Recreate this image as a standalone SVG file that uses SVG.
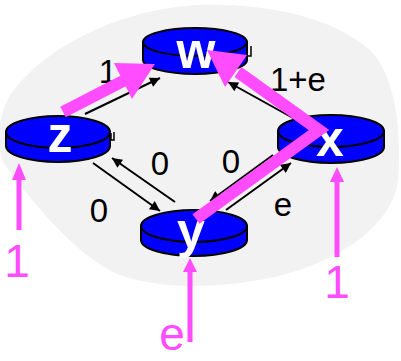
<svg xmlns="http://www.w3.org/2000/svg" width="401" height="361" viewBox="0 0 401 361">
<style>
.cyl{fill:#0000ff;stroke:#000;stroke-width:2}
.lbl{font-family:"Liberation Sans",Arial,sans-serif;font-size:50px;font-weight:bold;fill:#fff;text-anchor:middle}
.cost{font-family:"Liberation Sans",Arial,sans-serif;font-size:33px;fill:#000;text-anchor:middle}
.pcost{font-family:"Liberation Sans",Arial,sans-serif;font-size:46px;fill:#ff4cff;text-anchor:middle}
.blk{stroke:#000;stroke-width:2;fill:none;marker-end:url(#ah)}
.thick{stroke:#ff4cff;stroke-width:12;fill:none;stroke-linejoin:miter;stroke-miterlimit:10}
.thin{stroke:#ff4cff;stroke-width:5;fill:none}
.phead{fill:#ff4cff}
.mark{stroke:#000;stroke-width:1.5;fill:none}
</style>
<defs>
<marker id="ah" viewBox="0 0 10 10" refX="10" refY="5" markerWidth="12" markerHeight="10" markerUnits="userSpaceOnUse" orient="auto"><path d="M0,0 L10,5 L0,10 z" fill="#000"/></marker>
</defs>
<rect width="401" height="361" fill="#fff"/>
<path d="M200,5 C260,3 330,15 370,50 C395,75 402,130 398,180 C392,230 330,265 270,278 C220,288 160,290 120,275 C80,260 30,200 5,165 C-5,150 -2,115 10,95 C50,40 130,8 200,5 Z" fill="#f2f2f2"/>
<g id="connectors">
<line class="blk" x1="85" y1="114" x2="160" y2="78"/>
<line class="blk" x1="293" y1="118" x2="228" y2="82"/>
<line class="blk" x1="93" y1="163" x2="160" y2="211"/>
<line class="blk" x1="175" y1="202" x2="112" y2="158"/>
<line class="blk" x1="273" y1="155" x2="210" y2="201"/>
<line class="blk" x1="226" y1="210" x2="291" y2="163"/>
</g>
<g id="labels">
<text class="cost" x="108" y="83">1</text>
<text class="cost" x="270" y="91" style="text-anchor:start">1+e</text>
<text class="cost" x="160" y="175">0</text>
<text class="cost" x="231" y="173">0</text>
<text class="cost" x="99" y="222">0</text>
<text class="cost" x="283" y="216">e</text>
</g>
<g id="w">
<path class="cyl" d="M143,42 V60 A52,14 0 0 0 247,60 V42 Z"/>
<ellipse class="cyl" cx="195" cy="42" rx="52" ry="14"/>
<path class="mark" d="M247,47 v9 h4 v-10"/>
<text class="lbl" x="196" y="68">w</text>
</g>
<g id="z">
<path class="cyl" d="M6,132 V146 A52,16 0 0 0 110,146 V132 Z"/>
<ellipse class="cyl" cx="58" cy="132" rx="52" ry="16"/>
<path class="mark" d="M111,133 v7 h3 v-8"/>
<text class="lbl" x="60" y="152">z</text>
</g>
<g id="x">
<path class="cyl" d="M278,131 V147 A53,16 0 0 0 384,147 V131 Z"/>
<ellipse class="cyl" cx="331" cy="131" rx="53" ry="16"/>
<text class="lbl" x="330" y="156">x</text>
</g>
<g id="y">
<path class="cyl" d="M141,226 V240 A53,16 0 0 0 247,240 V226 Z"/>
<ellipse class="cyl" cx="194" cy="226" rx="53" ry="16"/>
<text class="lbl" x="191" y="248">y</text>
</g>
<g id="flows">
<line class="thick" x1="63" y1="112" x2="125" y2="80"/>
<polygon class="phead" points="155,64 114,63 132,99"/>
<polyline class="thick" points="196,219 319,130 238,72"/>
<polygon class="phead" points="207,50 247,55 225,87"/>
<line class="thin" x1="19" y1="178" x2="19" y2="230"/>
<polygon class="phead" points="19,163 12,180 26,180"/>
<line class="thin" x1="337" y1="180" x2="337" y2="257"/>
<polygon class="phead" points="337,167 330,182 344,182"/>
<line class="thin" x1="190" y1="270" x2="190" y2="342"/>
<polygon class="phead" points="190,258 183,272 197,272"/>
<text class="pcost" x="17" y="277">1</text>
<text class="pcost" x="337" y="298">1</text>
<text class="pcost" x="172" y="350">e</text>
</g>
</svg>
